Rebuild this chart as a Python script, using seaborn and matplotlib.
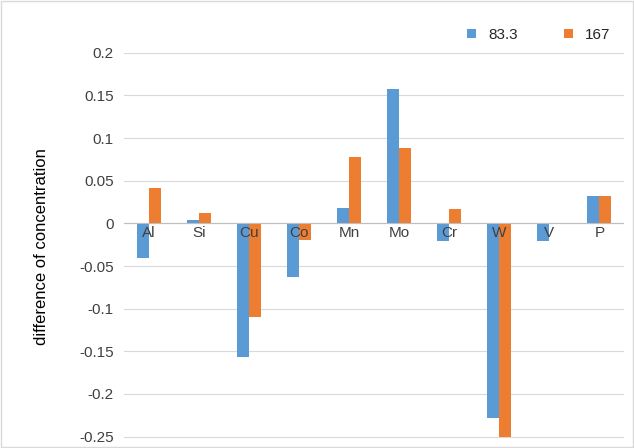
import matplotlib
matplotlib.use("Agg")
import matplotlib.pyplot as plt
import numpy as np
import pandas as pd
import seaborn as sns

elements = ["Al", "Si", "Cu", "Co", "Mn", "Mo", "Cr", "W", "V", "P"]
s83 = [-0.041, 0.004, -0.157, -0.063, 0.018, 0.158, -0.021, -0.228, -0.021, 0.032]
s167 = [0.042, 0.012, -0.110, -0.020, 0.078, 0.088, 0.017, -0.250, 0.000, 0.032]

df = pd.DataFrame({"element": elements * 2,
                   "value": s83 + s167,
                   "series": ["83.3"] * 10 + ["167"] * 10})

sns.set_style("white")
plt.rcParams['font.family'] = ['Liberation Sans', 'DejaVu Sans']
fig = plt.figure(figsize=(6.34, 4.48), dpi=100)
ax = fig.add_axes([0.195, 0.016, 0.79, 0.866])
sns.barplot(data=df, x="element", y="value", hue="series", saturation=1,
            palette=["#5B9BD5", "#ED7D31"], width=0.48, gap=0.0, ax=ax)
for p in ax.patches:
    p.set_edgecolor("none")
ax.set_ylim(-0.255, 0.2)
ticks = np.round(np.arange(-0.25, 0.2001, 0.05), 2)
ax.set_yticks(ticks)
ax.set_yticklabels(["0" if abs(v) < 1e-9 else f"{v:g}" for v in ticks], fontsize=11, color="#404040")
ax.yaxis.grid(True, color="#D9D9D9", lw=0.8)
ax.set_axisbelow(True)
ax.axhline(0, color="#BFBFBF", lw=0.8)
for s in ax.spines.values():
    s.set_visible(False)
ax.tick_params(left=False, bottom=False)
ax.set_xticks([])
ax.set_xlabel("")
for i, e in enumerate(elements):
    ax.text(i, -0.003, e, ha="center", va="top", fontsize=11, color="#404040")
ax.set_ylabel("difference of concentration", fontsize=12, color="#000000", labelpad=22)
ax.legend(loc="upper right", bbox_to_anchor=(1.0, 1.1), ncol=2, frameon=False,
          fontsize=11, handlelength=0.6, handleheight=0.6, columnspacing=3)
fig.patches.append(plt.Rectangle((0.002, 0.002), 0.996, 0.996, transform=fig.transFigure,
                                 fill=False, edgecolor="#D9D9D9", lw=1))
fig.savefig("out.png", dpi=100)
